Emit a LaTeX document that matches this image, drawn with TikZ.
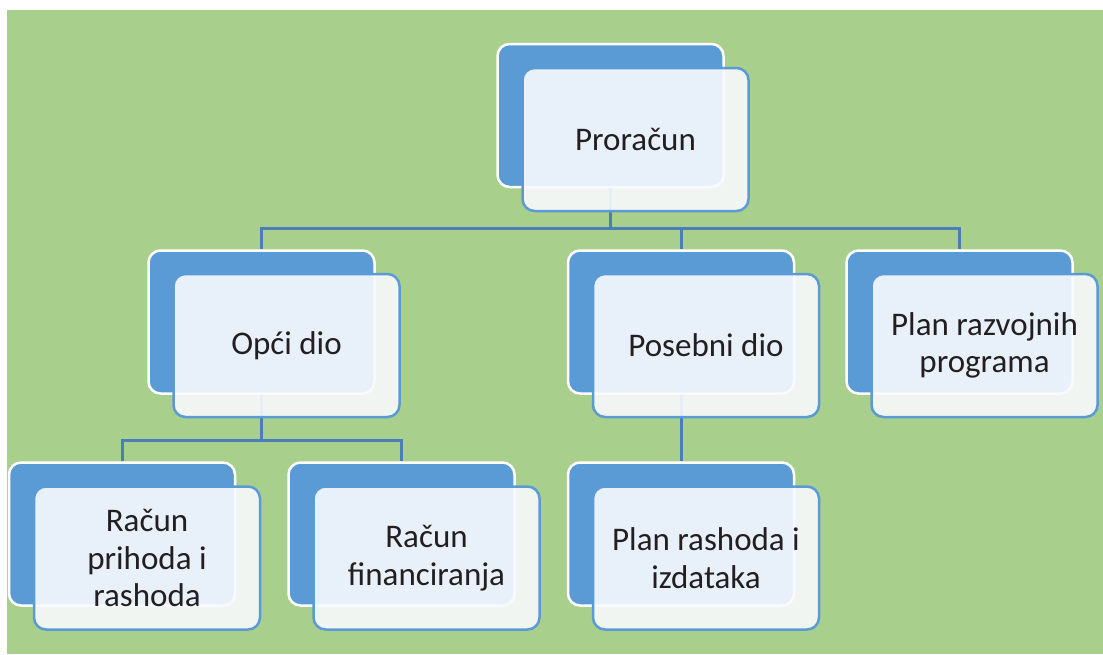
\documentclass[tikz,border=0pt]{standalone}
\usepackage{fontspec}
\setmainfont{Carlito}
\definecolor{bggreen}{RGB}{169,207,140}
\definecolor{boxblue}{RGB}{91,155,213}
\definecolor{linkblue}{RGB}{74,126,187}
\definecolor{paleface}{RGB}{248,250,253}
\definecolor{inktext}{RGB}{35,31,32}
\begin{document}
\begin{tikzpicture}[x=1pt,y=1pt]
\tikzstyle{back}=[draw=white,line width=2.5pt,fill=boxblue,rounded corners=12pt,minimum width=226pt,minimum height=143pt,inner sep=0pt]
\tikzstyle{front}=[draw=boxblue,line width=2.5pt,fill=paleface,fill opacity=0.9,text opacity=1,rounded corners=12pt,minimum width=226pt,minimum height=143pt,inner sep=0pt,align=center,text=inktext,font=\fontsize{33}{37.5}\selectfont]
\tikzstyle{link}=[draw=linkblue,line width=3pt]
\fill [white] (0,0) rectangle (1103,-654);
\fill [bggreen] (7,-10) rectangle (1103,-654);
\coordinate (bar1) at (0,-228);
\coordinate (bar2) at (0,-440);
\node [back] (budget-b) at (610.5,-115.5) {};
\node [back] (general-b) at (261.5,-322) {};
\node [back] (special-b) at (681,-322) {};
\node [back] (devplan-b) at (959.5,-322) {};
\node [back] (revenue-b) at (122,-534) {};
\node [back] (financing-b) at (401.5,-534) {};
\node [back] (expenses-b) at (681,-534) {};
\draw [link] (budget-b.south) -- (budget-b.south |- bar1) -| (general-b.north);
\draw [link] (budget-b.south |- bar1) -| (special-b.north);
\draw [link] (budget-b.south |- bar1) -| (devplan-b.north);
\draw [link] (general-b.south) -- (general-b.south |- bar2) -| (revenue-b.north);
\draw [link] (general-b.south |- bar2) -| (financing-b.north);
\draw [link] (special-b.south) -- (expenses-b.north);
\node [front] (budget) at (635.5,-139.5) {Proračun};
\node [front] (general) at (286.5,-345.5) {Opći dio};
\node [front] (special) at (706,-345.5) {Posebni dio};
\node [front] (devplan) at (984.5,-345.5) {Plan razvojnih\\programa};
\node [front] (revenue) at (147,-558) {Račun\\prihoda i\\rashoda};
\node [front] (financing) at (426.5,-558) {Račun\\financiranja};
\node [front] (expenses) at (706,-558) {Plan rashoda i\\izdataka};
\end{tikzpicture}
\end{document}
